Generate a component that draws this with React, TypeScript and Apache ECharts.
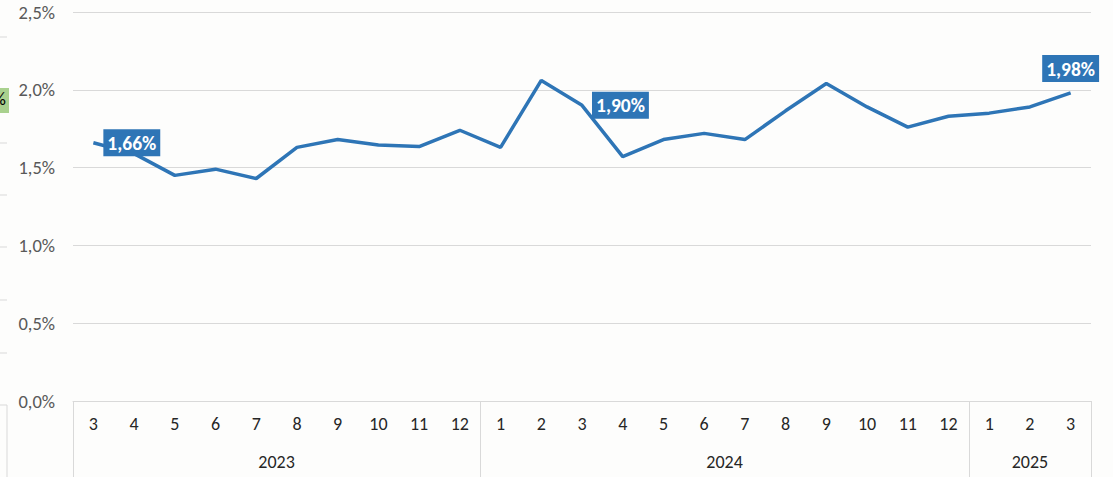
import React, { useEffect, useRef } from "react";
import * as echarts from "echarts";

const months = ["3","4","5","6","7","8","9","10","11","12","1","2","3","4","5","6","7","8","9","10","11","12","1","2","3"];
const yearLabels = ["2023", "2024", "2025"];
const yearCounts = [10, 12, 3];
const values = [1.66,1.59,1.45,1.49,1.43,1.63,1.68,1.645,1.635,1.74,1.63,2.06,1.90,1.57,1.68,1.72,1.68,1.865,2.04,1.89,1.76,1.83,1.85,1.89,1.98];
const labelledIdx = [0, 12, 24];
const labelPos = ["right", "right", "top"];
const yTicks = [0, 0.5, 1, 1.5, 2, 2.5];

const FONT = 'Carlito, Lato, "Open Sans", sans-serif';
const fmt = (v: number, d: number) => v.toFixed(d).replace(".", ",") + "%";

export default function App() {
  const ref = useRef<HTMLDivElement>(null);
  useEffect(() => {
    if (!ref.current) return;
    const chart = echarts.init(ref.current, null, { renderer: "svg" });
    const bounds: number[] = [0];
    yearCounts.forEach((c) => bounds.push(bounds[bounds.length - 1] + c));
    const centers = yearCounts.map((c, i) => bounds[i] + c / 2);

    const data = values.map((v, i) => {
      const k = labelledIdx.indexOf(i);
      if (k < 0) return v;
      return {
        value: v,
        label: {
          show: true,
          position: labelPos[k],
          distance: labelPos[k] === "top" ? 11 : 10,
          formatter: () => fmt(v, 2),
          backgroundColor: "#2E75B6",
          color: "#ffffff",
          fontWeight: "bold",
          fontSize: 19.5,
          fontFamily: FONT,
          padding: [4, 4, 3, 4],
        },
      };
    });

    const leftTicks = [37, 143, 195, 247, 300, 353];
    const graphic: any[] = leftTicks.map((y) => ({
      type: "line",
      shape: { x1: 0, y1: y, x2: 7, y2: y },
      style: { stroke: "#D9D9D9", lineWidth: 1 },
    }));
    graphic.push({ type: "polyline", shape: { points: [[0, 405], [7, 405], [7, 477]] }, style: { stroke: "#D9D9D9", lineWidth: 1, fill: null } });
    graphic.push({ type: "rect", shape: { x: 0, y: 88, width: 9, height: 25 }, style: { fill: "#A9D18E" } });
    graphic.push({ type: "text", x: -7, y: 90, style: { text: "%", fill: "#000", fontSize: 18, fontFamily: FONT } });

    chart.setOption({
      animation: false,
      backgroundColor: "#FDFDFC",
      grid: { left: 73, right: 22, top: 12, bottom: 76, containLabel: false },
      xAxis: [
        {
          type: "category",
          data: months,
          boundaryGap: true,
          axisLine: { show: true, lineStyle: { color: "#D9D9D9" } },
          axisTick: { show: false },
          axisLabel: { color: "#262626", fontSize: 18, fontFamily: FONT, margin: 14, interval: 0 },
        },
        {
          type: "value",
          position: "bottom",
          min: 0,
          max: bounds[bounds.length - 1],
          axisLine: { show: false },
          splitLine: { show: false },
          axisTick: { show: true, customValues: bounds, length: 76, lineStyle: { color: "#D9D9D9" } },
          axisLabel: {
            customValues: centers,
            color: "#262626",
            fontSize: 18,
            fontFamily: FONT,
            margin: 52,
            formatter: (v: number) => {
              const i = centers.findIndex((c) => Math.abs(c - v) < 1e-6);
              return i >= 0 ? yearLabels[i] : "";
            },
          },
        },
      ],
      yAxis: {
        type: "value",
        min: yTicks[0],
        max: yTicks[yTicks.length - 1],
        interval: 0.5,
        axisLine: { show: false },
        axisTick: { show: false },
        splitLine: { lineStyle: { color: "#D9D9D9", width: 1 } },
        axisLabel: { color: "#595959", fontSize: 18.5, fontFamily: FONT, margin: 18, formatter: (v: number) => fmt(v, 1) },
      },
      series: [
        {
          type: "line",
          xAxisIndex: 0,
          data,
          showSymbol: true,
          symbol: "circle",
          symbolSize: 0,
          lineStyle: { color: "#2E75B6", width: 3.5 },
          itemStyle: { color: "#2E75B6" },
          z: 5,
        },
      ],
      graphic,
    });
    return () => chart.dispose();
  }, []);
  return <div ref={ref} style={{ position: "absolute", left: 0, top: 0, width: 1113, height: 477 }} />;
}
